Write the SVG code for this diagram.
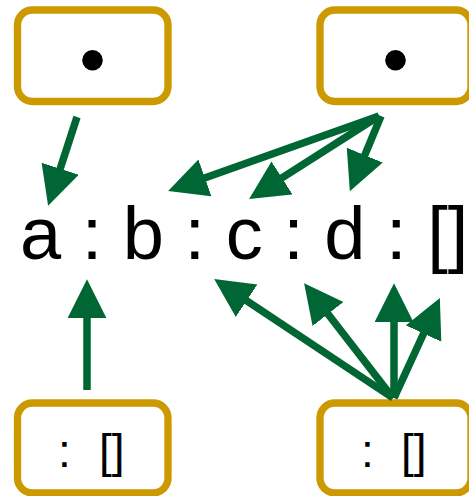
<svg xmlns="http://www.w3.org/2000/svg" width="469" height="496" viewBox="0 0 469 496">
  <style>
    .box { fill: #ffffff; stroke: #cc9900; stroke-width: 7.3; }
    .dot { fill: #000000; }
    .edge { stroke: #006633; stroke-width: 7.5; fill: none; marker-end: url(#head); }
    .big { font-family: "Liberation Sans", Arial, sans-serif; font-size: 74px; fill: #000000; }
    .small { font-family: "Liberation Sans", Arial, sans-serif; font-size: 46px; fill: #000000; }
  </style>
  <defs>
    <marker id="head" markerUnits="userSpaceOnUse" markerWidth="40" markerHeight="40" refX="7" refY="19.5" orient="auto">
      <path d="M0,0 L39,19.5 L0,39 z" fill="#006633"/>
    </marker>
  </defs>

  <rect width="469" height="496" fill="#ffffff"/>

  <!-- list spine -->
  <text id="list" class="big" x="20" y="259">a : b : c : d : []</text>

  <!-- pointer cells -->
  <g id="ptr-left">
    <rect class="box" x="17.5" y="10" width="150.5" height="91.5" rx="15"/>
    <circle class="dot" cx="92.5" cy="60.3" r="10.3"/>
  </g>
  <g id="ptr-right">
    <rect class="box" x="320" y="10" width="151" height="91.5" rx="15"/>
    <circle class="dot" cx="395.5" cy="60.3" r="10.3"/>
  </g>

  <!-- cons cells -->
  <g id="cons-left">
    <rect class="box" x="17.5" y="403" width="150.5" height="90" rx="15"/>
    <text class="small" y="467"><tspan x="58">:</tspan><tspan x="99">[]</tspan></text>
  </g>
  <g id="cons-right">
    <rect class="box" x="320" y="403" width="151" height="90" rx="15"/>
    <text class="small" y="467"><tspan x="361">:</tspan><tspan x="401">[]</tspan></text>
  </g>

  <!-- connectors -->
  <g id="edges">
    <line class="edge" x1="77" y1="117" x2="58" y2="175.4"/>
    <line class="edge" x1="379" y1="116" x2="198.3" y2="180.2"/>
    <line class="edge" x1="379" y1="116" x2="276.1" y2="181.7"/>
    <line class="edge" x1="381" y1="116" x2="362.1" y2="161.6"/>
    <line class="edge" x1="87" y1="390" x2="87" y2="311.2"/>
    <line class="edge" x1="393" y1="398" x2="240.8" y2="296.8"/>
    <line class="edge" x1="393" y1="398" x2="323.7" y2="308.5"/>
    <line class="edge" x1="394" y1="398" x2="394" y2="315.2"/>
    <line class="edge" x1="394" y1="398" x2="426.5" y2="327.2"/>
  </g>
</svg>
